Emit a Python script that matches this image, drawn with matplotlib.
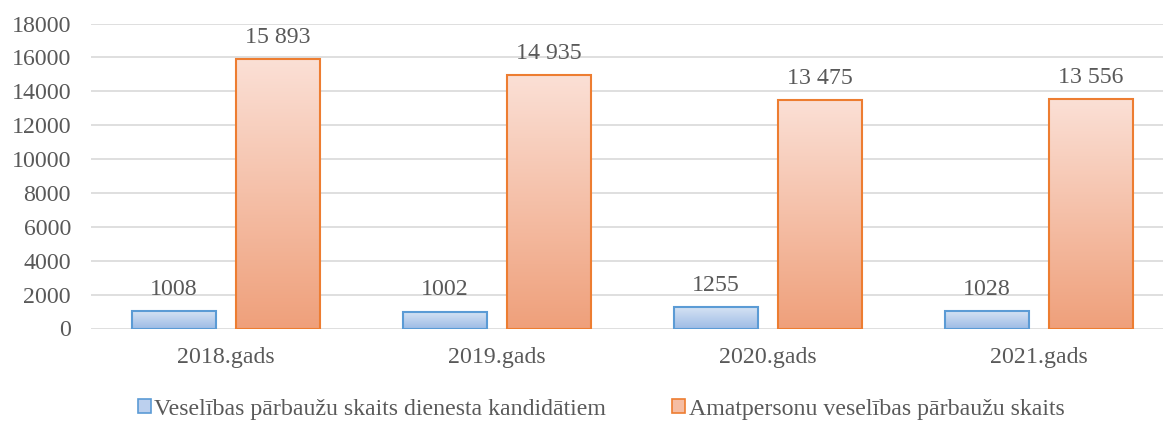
import matplotlib
matplotlib.use("Agg")
import matplotlib.pyplot as plt
import numpy as np
from matplotlib.colors import LinearSegmentedColormap
from matplotlib.patches import Patch

categories = ["2018.gads", "2019.gads", "2020.gads", "2021.gads"]
series_names = ["Veselības pārbaužu skaits dienesta kandidātiem",
                "Amatpersonu veselības pārbaužu skaits"]
candidates = [1008, 1002, 1255, 1028]
officials = [15893, 14935, 13475, 13556]
yticks = list(range(0, 18001, 2000))

plt.rcParams['font.family'] = ['Liberation Serif', 'DejaVu Serif']

W, H = 1163, 421
fig = plt.figure(figsize=(W / 100, H / 100), dpi=100)
left_px, right_px = 90.5, 1163
bottom_px, top_px = 421 - 328.5, 421 - 23.5
ax = fig.add_axes([left_px / W, bottom_px / H, (right_px - left_px) / W, (top_px - bottom_px) / H])

group_px = 271.0
xmax = -0.5 + (right_px - left_px) / group_px
ax.set_xlim(-0.5, xmax)
ax.set_ylim(0, 18000)

text_color = "#595959"
grid_color = "#d9d9d9"
fs = 17.2

ax.set_yticks(yticks)
ax.set_yticklabels([str(t) for t in yticks], fontsize=fs, color=text_color)
ax.set_xticks(range(len(categories)))
ax.set_xticklabels(categories, fontsize=fs, color=text_color)
ax.tick_params(axis='both', length=0)
ax.tick_params(axis='y', pad=14)
ax.tick_params(axis='x', pad=13)
for s in ax.spines.values():
    s.set_visible(False)
ax.yaxis.grid(True, color=grid_color, linewidth=1.2)
ax.set_axisbelow(True)

blue_cmap = LinearSegmentedColormap.from_list("b", ["#9fbde6", "#d8e4f4"])
orange_cmap = LinearSegmentedColormap.from_list("o", ["#efa07b", "#fbe0d6"])

width = 0.31
offset = 0.192
x = np.arange(len(categories))

def fmt(v):
    return f"{v:,}".replace(",", " ") if v >= 10000 else str(v)

def gradient_bars(xpos, vals, cmap, edge):
    bars = ax.bar(xpos, vals, width=width, facecolor="none", edgecolor=edge, linewidth=1.5, zorder=3)
    grad = np.linspace(0, 1, 256).reshape(-1, 1)
    for b in bars:
        x0, y0 = b.get_x(), b.get_y()
        w, h = b.get_width(), b.get_height()
        im = ax.imshow(grad, cmap=cmap, aspect='auto', origin='lower',
                       extent=[x0, x0 + w, y0, y0 + h], zorder=2)
        im.set_clip_path(b)
        ax.annotate(fmt(int(h)), (x0 + w / 2, h), xytext=(0, 8), textcoords="offset points",
                    ha='center', va='bottom', fontsize=fs, color=text_color)
    return bars

gradient_bars(x - offset, candidates, blue_cmap, "#5b9bd5")
gradient_bars(x + offset, officials, orange_cmap, "#ed7d31")
ax.set_xlim(-0.5, xmax)
ax.set_ylim(0, 18000)

handles = [Patch(facecolor="#bcd0ee", edgecolor="#5b9bd5", linewidth=1.2),
           Patch(facecolor="#f5bda3", edgecolor="#ed7d31", linewidth=1.2)]
fig.legend(handles, series_names, loc='center', bbox_to_anchor=(601 / W, 1 - 409 / H),
           ncol=2, frameon=False, fontsize=fs, labelcolor=text_color,
           handlelength=0.55, handleheight=0.55, handletextpad=0.15, columnspacing=2.75)

fig.savefig("out.png", dpi=100)
